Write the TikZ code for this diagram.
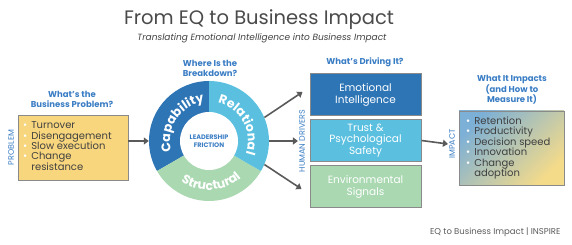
\documentclass[tikz,border=0pt]{standalone}
\usepackage{fontspec}
\setmainfont{Poppins}
\usetikzlibrary{arrows.meta,calc,decorations.text}
\definecolor{dblue}{HTML}{2E75B6}
\definecolor{lblue}{HTML}{5BC0E0}
\definecolor{lgreen}{HTML}{A9D8B1}
\definecolor{hblue}{HTML}{3A7DC4}
\definecolor{txt}{HTML}{404040}
\definecolor{ttl}{HTML}{4A4A4A}
\definecolor{bord}{HTML}{8A8A8A}
\definecolor{arr}{HTML}{5A5A5A}
\definecolor{porange}{HTML}{F8D67E}
\definecolor{gA}{HTML}{7DB0D6}
\definecolor{gB}{HTML}{A9DDE3}
\definecolor{gC}{HTML}{F4DB8A}
\newcommand{\wbul}{\textcolor{white}{\textbullet}}
\begin{document}
\begin{tikzpicture}[x=1pt,y=1pt,
 heading/.style={text=hblue, font=\fontsize{8.5}{9.8}\selectfont\bfseries, align=center},
 vlabel/.style={text=hblue, font=\fontsize{8}{9}\selectfont, rotate=90, inner sep=1pt},
 drvbox/.style={draw=bord, line width=1pt, minimum width=111pt, minimum height=42pt, text=white, font=\fontsize{10.5}{11.5}\selectfont, align=center, inner sep=0},
 conn/.style={draw=arr, line width=1.6pt, -{Triangle[length=5pt,width=7pt]}},
 listtext/.style={text=txt, font=\fontsize{10}{9.8}\selectfont, align=left, inner sep=0},
 ringtext/.style={decorate, decoration={text along path, text align=center, text color=white, text={#1}}},
]
\useasboundingbox (0,0) rectangle (572,-245);

% titles
\node[text=ttl, font=\fontsize{19.5}{22}\selectfont] (title) at (259,-20) {From EQ to Business Impact};
\node[text=txt, font=\fontsize{9}{10}\selectfont\itshape] (sub) at (262,-38) {Translating Emotional Intelligence into Business Impact};

% problem
\node[heading] (hprob) at (72,-99) {What's the\\Business Problem?};
\node[draw=bord, fill=porange, line width=0.8pt, minimum width=110pt, minimum height=65pt, inner sep=0] (prob) at (73,-147.5) {};
\node[listtext, anchor=west] (probtxt) at (23,-147.5) {\begin{tabular}{@{}l@{\hspace{4pt}}l@{}}
\wbul & Turnover\\ \wbul & Disengagement\\ \wbul & Slow execution\\ \wbul & Change\\ & resistance\end{tabular}};
\node[vlabel] (lprob) at (11,-147.5) {PROBLEM};

% ring
\coordinate (c) at (209,-141);
\fill[dblue] (c) -- ++(90:60) arc[start angle=90, end angle=210, radius=60] -- cycle;
\fill[lgreen] (c) -- ++(210:60) arc[start angle=210, end angle=330, radius=60] -- cycle;
\fill[lblue] (c) -- ++(330:60) arc[start angle=-30, end angle=90, radius=60] -- cycle;
\fill[white] (c) circle[radius=29];
\node[circle, minimum size=120pt, inner sep=0] (ring) at (c) {};
\node[text=hblue, font=\fontsize{6.5}{7.6}\selectfont\bfseries, align=center] (lf) at (c) {LEADERSHIP\\FRICTION};
\path[ringtext={|\fontsize{12.5}{12.5}\selectfont\bfseries|Capability}] (c) ++(206:39) arc[start angle=206, end angle=87, radius=39];
\path[ringtext={|\fontsize{12.5}{12.5}\selectfont\bfseries|Relational}] (c) ++(88:39) arc[start angle=88, end angle=-30, radius=39];
\path[ringtext={|\fontsize{12.5}{12.5}\selectfont\bfseries|Structural}] (c) ++(213:49) arc[start angle=213, end angle=333, radius=49];
\node[heading] (hring) at (210,-68) {Where Is the\\Breakdown?};

% drivers
\node[heading] (hdrv) at (365,-62) {What's Driving It?};
\node[drvbox, fill=dblue] (d1) at (365.5,-95) {Emotional\\Intelligence};
\node[drvbox, fill=lblue] (d2) at (365.5,-140.5) {Trust \&\\Psychological\\Safety};
\node[drvbox, fill=lgreen] (d3) at (365.5,-187) {Environmental\\Signals};
\node[vlabel] (lhd) at (302,-141) {HUMAN DRIVERS};

% impact
\node[heading] (himp) at (512,-90) {What It Impacts\\(and How to\\Measure It)};
\node[draw=bord, line width=0.8pt, top color=gA, middle color=gB, bottom color=gC, shading angle=45, minimum width=105pt, minimum height=74pt, inner sep=0] (imp) at (511.5,-148) {};
\node[listtext, anchor=west] (imptxt) at (466,-148) {\begin{tabular}{@{}l@{\hspace{4pt}}l@{}}
\wbul & Retention\\ \wbul & Productivity\\ \wbul & Decision speed\\ \wbul & Innovation\\ \wbul & Change\\ & adoption\end{tabular}};
\node[vlabel] (limp) at (452,-144) {IMPACT};

% footer
\node[text=arr, font=\fontsize{8.5}{10}\selectfont, anchor=east] (foot) at (564,-232) {EQ to Business Impact | INSPIRE};

% connectors
\draw[conn] (prob.east |- ring.west) -- (ring.west);
\draw[conn] (ring.23) -- ($(d1.west)+(-7,3)$);
\draw[conn] (ring.east) -- (lhd.north);
\draw[conn] (ring.-23) -- ($(d3.west)+(-8,-2)$);
\draw[conn] (d2.east) -- (limp.north);
\end{tikzpicture}
\end{document}
